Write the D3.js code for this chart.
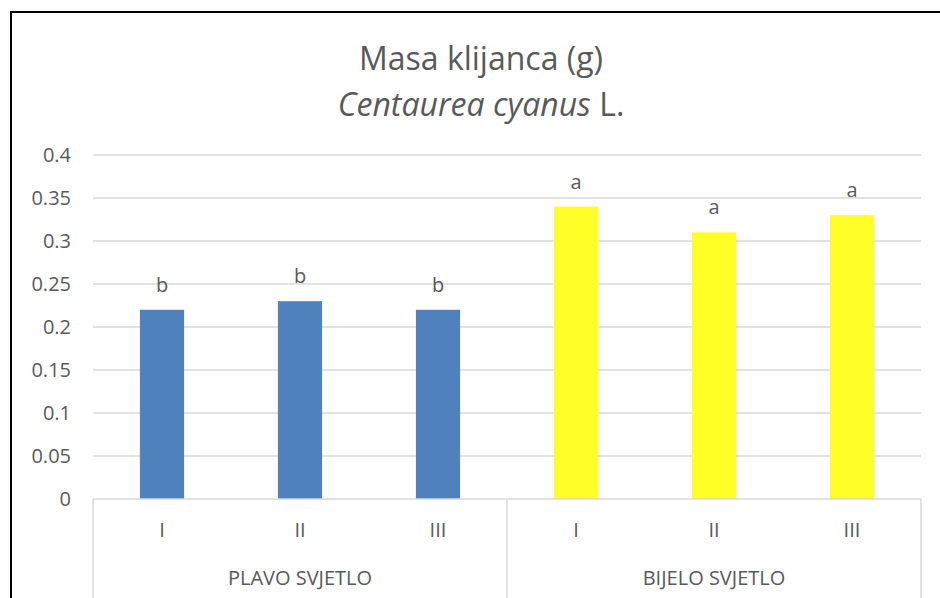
<!DOCTYPE html>
<html>
<head>
<meta charset="utf-8">
<script src="https://cdn.jsdelivr.net/npm/d3@7"></script>
<style>
  body { margin: 0; background: #fff; }
  text { font-family: "Open Sans", sans-serif; fill: #595959; }
</style>
</head>
<body>
<div class="chart"></div>
<script>
var width = 940,
    height = 598;

// data
var groups = ["PLAVO SVJETLO", "BIJELO SVJETLO"];
var levels = ["I", "II", "III"];
var values = [0.22, 0.23, 0.22, 0.34, 0.31, 0.33];
var letters = ["b", "b", "b", "a", "a", "a"];
var colors = ["#4f81bd", "#ffff27"];
var yTicks = [0, 0.05, 0.1, 0.15, 0.2, 0.25, 0.3, 0.35, 0.4];

var rows = [];
groups.forEach(function(g, gi) {
  levels.forEach(function(l, li) {
    var i = gi * levels.length + li;
    rows.push({ id: i, group: g, gi: gi, level: l, value: values[i], letter: letters[i] });
  });
});

var plotL = 93, plotR = 921, plotT = 155, plotB = 499;

var svg = d3.select(".chart").append("svg")
    .attr("width", width)
    .attr("height", height);

// outer chart border
svg.append("rect")
    .attr("x", 11).attr("y", 12)
    .attr("width", 960).attr("height", 620)
    .attr("fill", "none")
    .attr("stroke", "#000")
    .attr("stroke-width", 2);

var x = d3.scaleBand()
    .domain(rows.map(function(d) { return d.id; }))
    .range([plotL, plotR]);

var y = d3.scaleLinear()
    .domain([0, 0.4])
    .range([plotB, plotT]);

// gridlines
svg.selectAll(".grid")
    .data(yTicks.slice(1))
    .enter().append("line")
    .attr("x1", plotL).attr("x2", plotR)
    .attr("y1", function(d) { return y(d); })
    .attr("y2", function(d) { return y(d); })
    .attr("stroke", "#d9d9d9")
    .attr("stroke-width", 1.5);

// y tick labels
svg.selectAll(".ytick")
    .data(yTicks)
    .enter().append("text")
    .attr("x", 71)
    .attr("y", function(d) { return y(d); })
    .attr("dy", "0.35em")
    .attr("text-anchor", "end")
    .style("font-size", "20px")
    .text(function(d) { return d; });

// bars
var bw = x.bandwidth() * 0.32;
svg.selectAll(".bar")
    .data(rows)
    .enter().append("rect")
    .attr("x", function(d) { return x(d.id) + (x.bandwidth() - bw) / 2; })
    .attr("y", function(d) { return y(d.value); })
    .attr("width", bw)
    .attr("height", function(d) { return y(0) - y(d.value); })
    .attr("fill", function(d) { return colors[d.gi]; });

// significance letters
svg.selectAll(".lbl")
    .data(rows)
    .enter().append("text")
    .attr("x", function(d) { return x(d.id) + x.bandwidth() / 2; })
    .attr("y", function(d) { return y(d.value) - 18; })
    .attr("text-anchor", "middle")
    .style("font-size", "20px")
    .text(function(d) { return d.letter; });

// category axis
svg.append("line")
    .attr("x1", plotL).attr("x2", plotR)
    .attr("y1", plotB).attr("y2", plotB)
    .attr("stroke", "#d9d9d9").attr("stroke-width", 1.5);

var seps = [plotL].concat(groups.map(function(g, gi) {
  return x((gi + 1) * levels.length - 1) + x.bandwidth();
}));
svg.selectAll(".sep")
    .data(seps)
    .enter().append("line")
    .attr("x1", function(d) { return d; })
    .attr("x2", function(d) { return d; })
    .attr("y1", plotB).attr("y2", height)
    .attr("stroke", "#d9d9d9").attr("stroke-width", 1.5);

svg.selectAll(".xtick")
    .data(rows)
    .enter().append("text")
    .attr("x", function(d) { return x(d.id) + x.bandwidth() / 2; })
    .attr("y", 537)
    .attr("text-anchor", "middle")
    .style("font-size", "20px")
    .text(function(d) { return d.level; });

svg.selectAll(".grp")
    .data(groups)
    .enter().append("text")
    .attr("x", function(d, gi) {
      return (x(gi * levels.length) + x((gi + 1) * levels.length - 1) + x.bandwidth()) / 2;
    })
    .attr("y", 585)
    .attr("text-anchor", "middle")
    .style("font-size", "20px")
    .text(function(d) { return d; });

// title
svg.append("text")
    .attr("x", 481)
    .attr("y", 70)
    .attr("text-anchor", "middle")
    .style("font-size", "32px")
    .text("Masa klijanca (g)");

var t2 = svg.append("text")
    .attr("x", 481)
    .attr("y", 116)
    .attr("text-anchor", "middle")
    .style("font-size", "32px");
t2.append("tspan").style("font-style", "italic").text("Centaurea cyanus");
t2.append("tspan").text(" L.");
</script>
</body>
</html>
